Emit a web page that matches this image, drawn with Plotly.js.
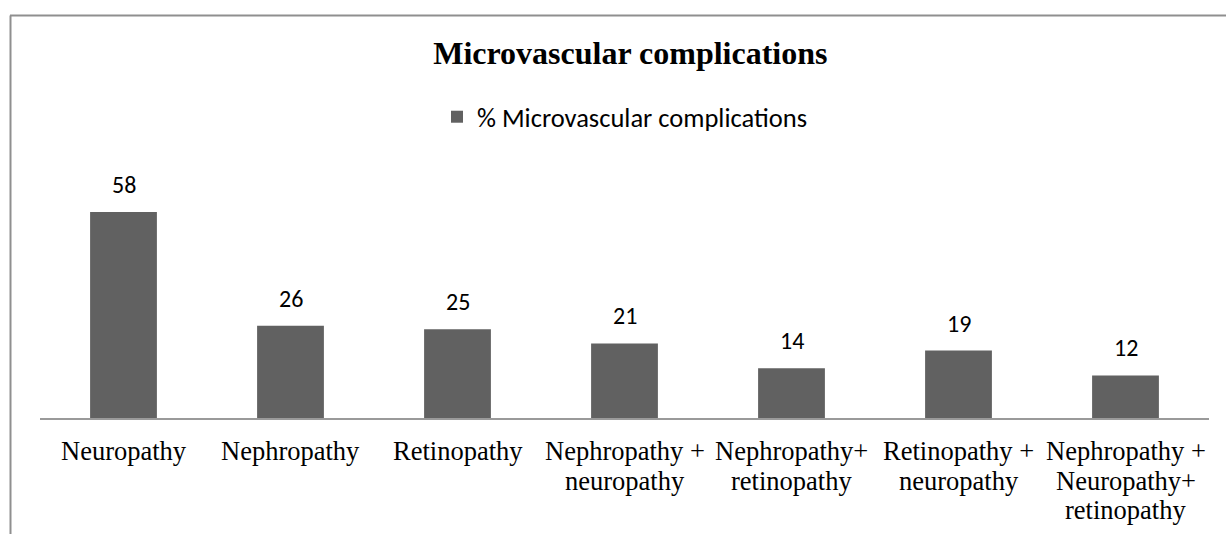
<!DOCTYPE html>
<html>
<head>
<meta charset="utf-8">
<script src="https://cdn.plot.ly/plotly-3.0.1.min.js"></script>
<style>
  html, body { margin: 0; padding: 0; background: #fff; }
  #chart { width: 1226px; height: 534px; }
</style>
</head>
<body>
<div id="chart"></div>
<script>
const categories = [
  "Neuropathy",
  "Nephropathy",
  "Retinopathy",
  "Nephropathy +<br>neuropathy",
  "Nephropathy+<br>retinopathy",
  "Retinopathy +<br>neuropathy",
  "Nephropathy +<br>Neuropathy+<br>retinopathy"
];
const values = [58, 26, 25, 21, 14, 19, 12];
const seriesName = "% Microvascular complications";
const chartTitle = "Microvascular complications";

const sansFont = "Carlito, Lato, 'Open Sans', sans-serif";
const serifFont = "'Liberation Serif', 'Times New Roman', serif";

const trace = {
  type: "bar",
  x: categories,
  y: values,
  name: seriesName,
  marker: { color: "#616161" },
  showlegend: true,
  hoverinfo: "y"
};

// value labels above the bars
const annotations = categories.map((c, i) => ({
  x: c, y: values[i], xref: "x", yref: "y",
  text: String(values[i]),
  showarrow: false, yanchor: "bottom", yshift: 11,
  font: { family: sansFont, size: 24, color: "#000" }
}));

// category labels, one line at a time (tighter line spacing than Plotly's default)
const LINE_STEP = 29.5, FIRST_LINE = 33;
categories.forEach(c => {
  c.split("<br>").forEach((line, k) => {
    annotations.push({
      x: c, y: 0, xref: "x", yref: "y",
      text: line, showarrow: false,
      yanchor: "middle", yshift: -(FIRST_LINE + k * LINE_STEP),
      font: { family: serifFont, size: 26.5, color: "#000" }
    });
  });
});

const layout = {
  width: 1226, height: 534,
  margin: { l: 40, r: 17, t: 150, b: 116, autoexpand: false },
  paper_bgcolor: "#fff", plot_bgcolor: "#fff",
  bargap: 0.6,
  title: {
    text: "<b>" + chartTitle + "</b>",
    font: { family: serifFont, size: 32, color: "#000" },
    x: 0.505, xanchor: "center", xref: "paper",
    y: 1 - 53 / 534, yanchor: "middle", yref: "container"
  },
  showlegend: true,
  legend: {
    orientation: "h", x: 0.5, xanchor: "center",
    y: 1 + 33 / 268, yanchor: "middle",
    itemwidth: 30,
    font: { family: sansFont, size: 26.5, color: "#000" },
    bgcolor: "rgba(0,0,0,0)"
  },
  xaxis: {
    type: "category",
    showline: true, linecolor: "#9a9a9a", linewidth: 1.5,
    ticks: "", showgrid: false, zeroline: false,
    showticklabels: false,
    automargin: false, fixedrange: true
  },
  yaxis: {
    range: [0, 268 * 58 / 206],
    visible: false, showgrid: false, zeroline: false,
    fixedrange: true
  },
  annotations: annotations,
  shapes: [
    { type: "line", xref: "paper", yref: "paper",
      x0: (10 - 40) / 1169, x1: (1240 - 40) / 1169,
      y0: (418 - 15.5) / 268, y1: (418 - 15.5) / 268,
      line: { color: "#8f8f8f", width: 2 } },
    { type: "line", xref: "paper", yref: "paper",
      x0: (10.5 - 40) / 1169, x1: (10.5 - 40) / 1169,
      y0: (418 - 15.5) / 268, y1: (418 - 540) / 268,
      line: { color: "#8f8f8f", width: 2 } }
  ]
};

Plotly.newPlot("chart", [trace], layout, { displayModeBar: false, staticPlot: true });
</script>
</body>
</html>
